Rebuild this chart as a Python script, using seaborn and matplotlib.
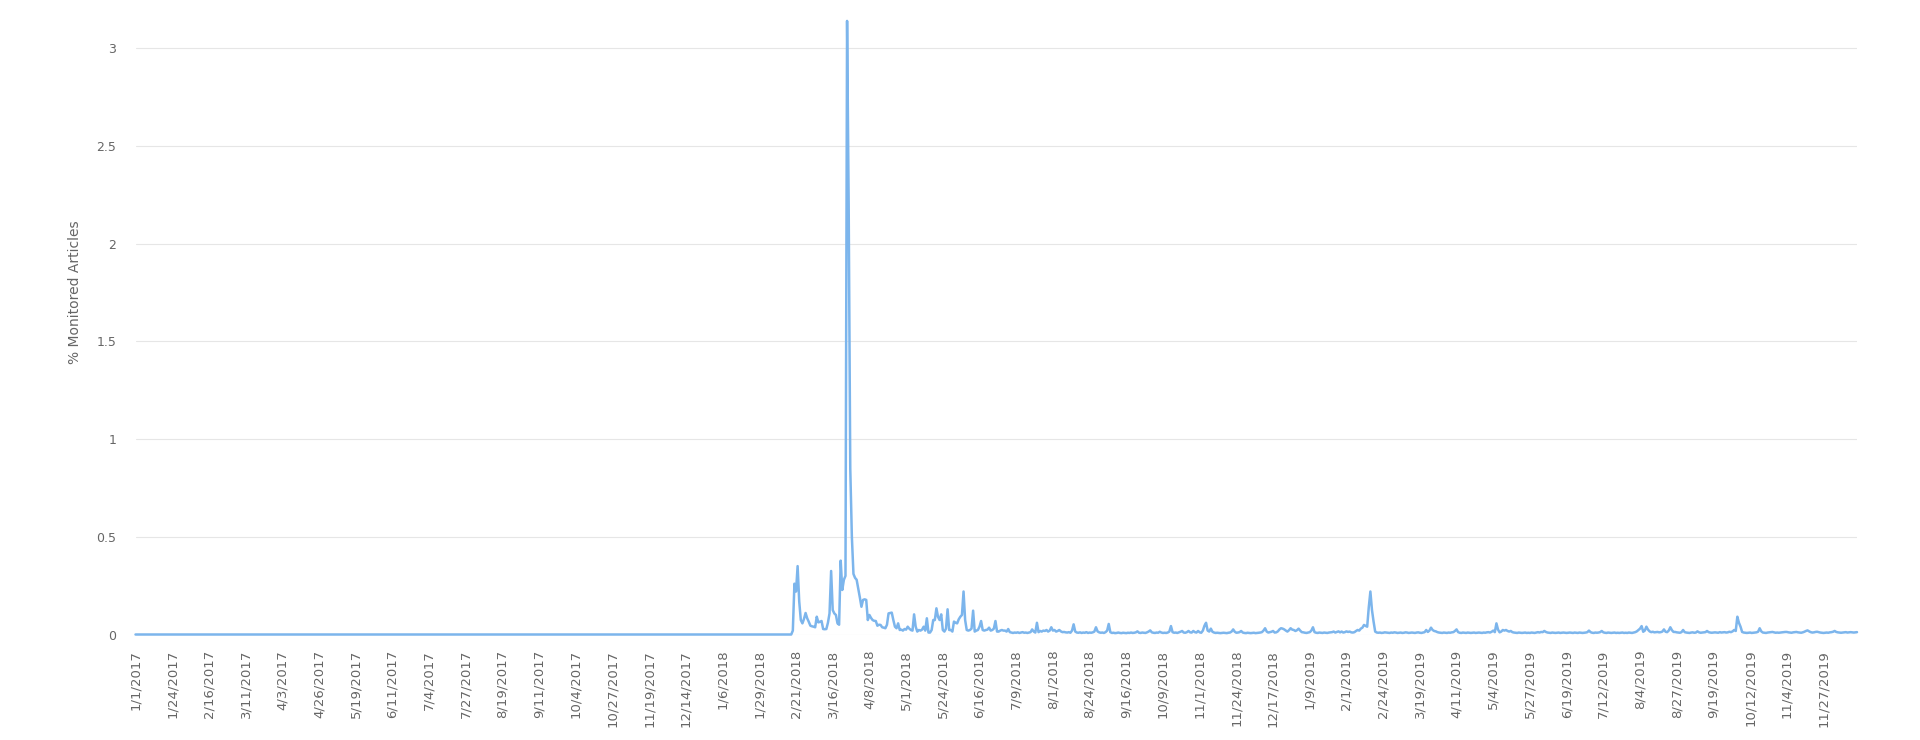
import numpy as np
import pandas as pd
import matplotlib
matplotlib.use("Agg")
import matplotlib.pyplot as plt
import seaborn as sns

# daily categories; two dates are absent from the source series in late 2017
first_day = "2017-01-01"
last_day = "2019-12-18"
missing_days = ["2017-11-23", "2017-11-24"]

# 2017-01-01 .. mid Feb 2018: nothing monitored
quiet_values = [0.0] * 410

# from mid Feb 2018 onwards, one value per day
active_values = [
    0.0, 0.0, 0.02, 0.26, 0.22, 0.35, 0.17, 0.074, 0.057, 0.08,
    0.11, 0.083, 0.065, 0.045, 0.042, 0.04, 0.037, 0.091, 0.062, 0.065,
    0.069, 0.028, 0.027, 0.028, 0.06, 0.108, 0.325, 0.125, 0.108, 0.1,
    0.057, 0.05, 0.378, 0.228, 0.28, 0.3, 3.14, 2.2, 0.85, 0.5,
    0.31, 0.29, 0.28, 0.236, 0.19, 0.142, 0.177, 0.18, 0.177, 0.074,
    0.1, 0.085, 0.074, 0.07, 0.069, 0.045, 0.05, 0.049, 0.037, 0.035,
    0.032, 0.05, 0.108, 0.11, 0.112, 0.074, 0.04, 0.032, 0.057, 0.023,
    0.025, 0.02, 0.028, 0.025, 0.04, 0.03, 0.023, 0.02, 0.103, 0.04,
    0.015, 0.023, 0.02, 0.025, 0.04, 0.02, 0.083, 0.01, 0.01, 0.023,
    0.074, 0.074, 0.134, 0.09, 0.074, 0.103, 0.023, 0.015, 0.03, 0.129,
    0.023, 0.023, 0.015, 0.066, 0.06, 0.057, 0.078, 0.091, 0.1, 0.22,
    0.074, 0.023, 0.02, 0.023, 0.03, 0.122, 0.015, 0.02, 0.023, 0.04,
    0.069, 0.023, 0.02, 0.023, 0.025, 0.035, 0.02, 0.023, 0.03, 0.069,
    0.015, 0.015, 0.02, 0.023, 0.02, 0.02, 0.015, 0.028, 0.012, 0.01,
    0.008, 0.01, 0.009, 0.011, 0.008, 0.01, 0.012, 0.009, 0.01, 0.008,
    0.01, 0.012, 0.026, 0.015, 0.01, 0.06, 0.012, 0.018, 0.015, 0.02,
    0.018, 0.023, 0.015, 0.02, 0.037, 0.02, 0.023, 0.015, 0.018, 0.023,
    0.016, 0.012, 0.013, 0.011, 0.01, 0.012, 0.009, 0.02, 0.052, 0.015,
    0.01, 0.009, 0.011, 0.008, 0.01, 0.009, 0.012, 0.008, 0.01, 0.009,
    0.011, 0.015, 0.037, 0.016, 0.011, 0.009, 0.01, 0.008, 0.012, 0.02,
    0.054, 0.012, 0.008, 0.009, 0.007, 0.008, 0.01, 0.008, 0.007, 0.009,
    0.008, 0.007, 0.009, 0.008, 0.01, 0.008, 0.009, 0.011, 0.016, 0.009,
    0.008, 0.01, 0.009, 0.008, 0.011, 0.015, 0.021, 0.011, 0.009, 0.008,
    0.01, 0.009, 0.014, 0.01, 0.008, 0.009, 0.008, 0.01, 0.015, 0.043,
    0.012, 0.009, 0.01, 0.008, 0.011, 0.014, 0.018, 0.01, 0.009, 0.012,
    0.018, 0.011, 0.01, 0.018, 0.012, 0.01, 0.018, 0.011, 0.009, 0.02,
    0.045, 0.06, 0.02, 0.015, 0.03, 0.014, 0.01, 0.008, 0.009, 0.008,
    0.007, 0.008, 0.009, 0.008, 0.007, 0.009, 0.01, 0.015, 0.026, 0.014,
    0.009, 0.01, 0.012, 0.018, 0.01, 0.008, 0.007, 0.009, 0.008, 0.007,
    0.008, 0.009, 0.007, 0.008, 0.009, 0.01, 0.012, 0.02, 0.032, 0.015,
    0.01, 0.012, 0.014, 0.018, 0.01, 0.011, 0.016, 0.026, 0.032, 0.03,
    0.026, 0.02, 0.015, 0.022, 0.032, 0.025, 0.023, 0.018, 0.022, 0.03,
    0.02, 0.012, 0.011, 0.009, 0.008, 0.01, 0.012, 0.02, 0.037, 0.012,
    0.009, 0.008, 0.01, 0.009, 0.008, 0.01, 0.009, 0.008, 0.01, 0.011,
    0.012, 0.015, 0.01, 0.013, 0.016, 0.011, 0.015, 0.01, 0.012, 0.016,
    0.013, 0.015, 0.011, 0.01, 0.012, 0.018, 0.023, 0.02, 0.03, 0.035,
    0.049, 0.044, 0.04, 0.14, 0.22, 0.125, 0.066, 0.015, 0.01, 0.009,
    0.01, 0.008, 0.009, 0.011, 0.01, 0.009, 0.008, 0.01, 0.009, 0.011,
    0.01, 0.008, 0.009, 0.01, 0.008, 0.009, 0.011, 0.01, 0.008, 0.009,
    0.01, 0.009, 0.008, 0.01, 0.011, 0.009, 0.008, 0.01, 0.012, 0.023,
    0.013, 0.02, 0.035, 0.023, 0.018, 0.016, 0.012, 0.01, 0.009, 0.008,
    0.01, 0.009, 0.008, 0.01, 0.009, 0.011, 0.012, 0.018, 0.026, 0.012,
    0.009, 0.008, 0.01, 0.009, 0.008, 0.01, 0.009, 0.008, 0.009, 0.01,
    0.008, 0.009, 0.01, 0.009, 0.008, 0.01, 0.009, 0.011, 0.012, 0.01,
    0.014, 0.02, 0.012, 0.057, 0.025, 0.011, 0.015, 0.023, 0.02, 0.023,
    0.018, 0.015, 0.018, 0.012, 0.01, 0.009, 0.008, 0.01, 0.009, 0.008,
    0.009, 0.01, 0.008, 0.009, 0.008, 0.01, 0.009, 0.008, 0.01, 0.012,
    0.01, 0.013, 0.012, 0.018, 0.013, 0.01, 0.009, 0.008, 0.01, 0.009,
    0.008, 0.009, 0.01, 0.008, 0.009, 0.01, 0.009, 0.008, 0.009, 0.01,
    0.009, 0.008, 0.01, 0.009, 0.008, 0.01, 0.009, 0.008, 0.009, 0.01,
    0.012, 0.02, 0.012, 0.009, 0.008, 0.01, 0.009, 0.01, 0.012, 0.018,
    0.011, 0.009, 0.008, 0.01, 0.009, 0.008, 0.009, 0.01, 0.008, 0.009,
    0.008, 0.009, 0.01, 0.008, 0.009, 0.008, 0.01, 0.009, 0.008, 0.01,
    0.012, 0.016, 0.023, 0.03, 0.043, 0.014, 0.02, 0.04, 0.025, 0.016,
    0.012, 0.014, 0.011, 0.012, 0.013, 0.011, 0.012, 0.015, 0.026, 0.014,
    0.012, 0.02, 0.037, 0.022, 0.013, 0.013, 0.011, 0.01, 0.009, 0.012,
    0.023, 0.012, 0.01, 0.009, 0.008, 0.01, 0.011, 0.009, 0.01, 0.016,
    0.011, 0.009, 0.01, 0.011, 0.012, 0.018, 0.012, 0.01, 0.009, 0.01,
    0.011, 0.01, 0.009, 0.012, 0.01, 0.011, 0.012, 0.01, 0.011, 0.014,
    0.012, 0.016, 0.023, 0.018, 0.091, 0.06, 0.04, 0.013, 0.01, 0.009,
    0.008, 0.009, 0.01, 0.008, 0.009, 0.01, 0.011, 0.014, 0.032, 0.016,
    0.01, 0.009, 0.008, 0.01, 0.011, 0.012, 0.013, 0.011, 0.009, 0.01,
    0.009, 0.01, 0.011, 0.012, 0.013, 0.013, 0.011, 0.01, 0.009, 0.011,
    0.012, 0.013, 0.011, 0.01, 0.009, 0.011, 0.014, 0.018, 0.021, 0.016,
    0.012, 0.01, 0.011, 0.013, 0.014, 0.012, 0.01, 0.009, 0.008, 0.009,
    0.01, 0.009, 0.011, 0.012, 0.014, 0.018, 0.013, 0.011, 0.01, 0.009,
    0.01, 0.011, 0.012, 0.01, 0.011, 0.012, 0.011, 0.01, 0.011, 0.012,
]

y_ticks = [0, 0.5, 1, 1.5, 2, 2.5, 3]
label_every = 23

pct = quiet_values + active_values
dates = pd.date_range(first_day, last_day, freq="D").drop(pd.to_datetime(missing_days))
dates = dates[:len(pct)]
pct = pct[:len(dates)]
df = pd.DataFrame({
    "pos": np.arange(len(dates)),
    "date": [f"{d.month}/{d.day}/{d.year}" for d in dates],
    "pct": pct,
})

sns.set_style("white")
plt.rcParams["font.family"] = ["DejaVu Sans"]

fig = plt.figure(figsize=(19.2, 7.4), dpi=100)
ax = fig.add_axes([135.5 / 1920, 105.5 / 740, (1857 - 135.5) / 1920, 625.3 / 740])

sns.lineplot(data=df, x="pos", y="pct", ax=ax, color="#7cb5ec", linewidth=1.8,
             clip_on=False, zorder=3)

ax.set_xlim(df["pos"].iloc[0], df["pos"].iloc[-1])
ax.set_ylim(0, 3.2)

ticks = df.iloc[::label_every]
ax.set_xticks(ticks["pos"])
ax.set_xticklabels(ticks["date"], rotation=90, fontsize=9.5, color="#666666",
                   ha="center", va="top")
ax.set_yticks(y_ticks)
ax.set_yticklabels([f"{t:g}" for t in y_ticks], fontsize=9, color="#666666")
ax.tick_params(axis="x", length=0, pad=11)
ax.tick_params(axis="y", length=0, pad=14)

ax.yaxis.grid(True, color="#e6e6e6", linewidth=0.8)
ax.xaxis.grid(False)
for s in ax.spines.values():
    s.set_visible(False)

ax.set_xlabel("")
ax.set_ylabel("")
fig.text(75 / 1920, (740 - 292) / 740, "% Monitored Articles", rotation=90,
         fontsize=10, color="#666666", ha="center", va="center")

plt.savefig("out.png", dpi=100, facecolor="white")
